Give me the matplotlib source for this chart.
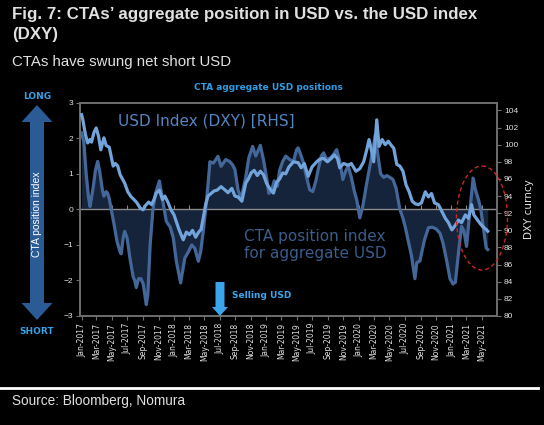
import matplotlib
matplotlib.use('Agg')
import matplotlib.pyplot as plt
import pandas as pd
from matplotlib.patches import Ellipse, FancyArrow

# readings: months elapsed since 1 Jan 2017, value
cta_month = [0.0, 0.3, 0.6, 0.9, 1.1, 1.5, 1.8, 2.1, 2.4, 2.7, 2.9, 3.2, 3.4, 3.6, 3.85,
             4.2, 4.6, 5.0, 5.15, 5.4, 5.6, 5.9, 6.3, 6.7, 6.9, 7.1, 7.4, 7.7, 8.0, 8.4,
             8.6, 8.9, 9.26, 9.6, 10.1, 10.5, 11.0, 11.5, 11.9, 12.3, 12.85, 13.4, 13.85,
             14.3, 14.7, 15.15, 15.45, 15.8, 16.1, 16.45, 16.65, 17.1, 17.7, 18.1, 18.7,
             19.2, 19.6, 19.9, 20.3, 20.7, 21.3, 21.7, 22.2, 22.6, 22.9, 23.2, 23.6, 24.0,
             24.3, 24.6, 25.0, 25.4, 25.7, 26.1, 26.5, 27.0, 27.5, 27.9, 28.1, 28.5, 28.8,
             29.2, 29.6, 30.0, 30.4, 30.7, 31.1, 31.4, 31.8, 32.3, 32.7, 33.1, 33.5, 33.9,
             34.3, 34.6, 35.0, 35.4, 35.7, 36.1, 36.5, 37.0, 37.4, 37.8, 38.1, 38.4, 38.8,
             39.2, 39.6, 40.0, 40.4, 40.8, 41.3, 41.7, 42.0, 42.4, 42.8, 43.25, 43.5, 43.9,
             44.5, 45.0, 45.5, 46.0, 46.5, 46.9, 47.35, 47.8, 48.2, 48.5, 48.9, 49.3, 49.6,
             49.95, 50.4, 50.8, 51.1, 51.5, 51.8, 52.1, 52.5, 52.7]
cta_value = [2.15, 1.9, 1.0, 0.35, 0.08, 0.6, 1.1, 1.35, 1.0, 0.55, 0.37, 0.5, 0.45, 0.3, 0.0,
             -0.4, -0.9, -1.2, -1.25, -0.8, -0.62, -0.8, -1.4, -1.9, -2.0, -2.2, -1.95, -1.95, -2.1, -2.68,
             -2.4, -1.0, 0.0, 0.45, 0.8, 0.3, -0.34, -0.5, -0.8, -1.46, -2.07, -1.37, -1.2,
             -1.0, -1.1, -1.46, -1.2, -0.6, 0.0, 0.79, 1.34, 1.3, 1.49, 1.21, 1.4,
             1.35, 1.25, 1.12, 0.55, 0.3, 0.9, 1.45, 1.77, 1.5, 1.65, 1.8, 1.4, 0.9,
             0.45, 0.5, 0.8, 0.65, 1.1, 1.35, 1.5, 1.4, 1.35, 1.68, 1.73, 1.5, 1.3,
             0.9, 0.55, 0.5, 0.8, 1.12, 1.5, 1.59, 1.4, 1.45, 1.55, 1.68, 1.35, 0.84,
             1.1, 1.21, 0.9, 0.5, 0.27, -0.24, 0.1, 0.74, 1.21, 1.68, 2.1, 1.6, 1.0,
             0.9, 0.95, 0.9, 0.84, 0.6, 0.0, -0.25, -0.5, -0.9, -1.3, -1.95, -1.5, -1.45,
             -0.85, -0.52, -0.5, -0.55, -0.67, -0.95, -1.42, -1.95, -2.1, -2.05, -1.23, -0.48, -0.6,
             -1.04, 0.0, 0.88, 0.55, 0.27, 0.0, -0.47, -1.09, -1.13]

dxy_month = [0.0, 0.15, 0.5, 0.8, 1.1, 1.3, 1.6, 1.9, 2.2, 2.5, 2.9, 3.2, 3.6, 4.1, 4.4,
             4.7, 5.0, 5.3, 5.6, 6.0, 6.4, 6.8, 7.2, 7.6, 8.0, 8.3, 8.7, 9.1, 9.4, 9.7,
             10.1, 10.5, 10.8, 11.2, 11.6, 12.0, 12.3, 12.6, 13.0, 13.2, 13.6, 14.0, 14.4,
             14.8, 15.2, 15.5, 15.8, 16.1, 16.4, 16.8, 17.2, 17.6, 18.1, 18.5, 19.0, 19.5,
             19.9, 20.3, 20.8, 21.3, 21.7, 22.0, 22.4, 22.8, 23.2, 23.6, 24.0, 24.4, 24.9,
             25.3, 25.7, 26.1, 26.5, 26.9, 27.5, 28.1, 28.5, 28.9, 29.4, 29.9, 30.5, 30.9,
             31.4, 31.9, 32.4, 32.8, 33.2, 33.5, 34.0, 34.6, 35.0, 35.6, 36.1, 36.6, 37.0,
             37.3, 37.6, 37.9, 38.3, 38.6, 39.0, 39.4, 39.8, 40.2, 40.5, 40.9, 41.3, 41.7,
             42.1, 42.5, 42.9, 43.3, 43.7, 44.1, 44.6, 45.0, 45.4, 45.8, 46.3, 46.75, 47.2,
             47.6, 48.05, 48.5, 48.9, 49.3, 49.8, 50.2, 50.6, 50.9, 51.3, 51.7, 52.1, 52.5,
             52.7]
dxy_value = [103.5, 103.0, 101.2, 100.2, 100.6, 100.3, 101.4, 101.95, 101.0, 99.4, 100.8, 99.9, 99.7, 97.5, 97.8,
             97.5, 96.5, 96.0, 95.5, 94.5, 93.95, 93.6, 93.2, 92.6, 92.4, 92.9, 93.3, 93.0, 93.6, 94.35,
             94.7, 93.6, 94.0, 93.3, 92.4, 91.8, 91.0, 90.2, 89.3, 88.9, 89.8, 89.5, 90.0,
             89.2, 89.8, 90.1, 91.5, 93.0, 94.0, 94.3, 94.6, 94.7, 95.1, 94.8, 94.4, 94.9,
             94.0, 93.9, 93.4, 95.5, 96.1, 96.7, 97.0, 96.4, 96.9, 96.5, 95.5, 94.9, 94.35,
             95.6, 96.0, 96.7, 96.6, 97.4, 98.0, 97.9, 97.3, 97.8, 96.3, 97.4, 98.0, 98.3,
             98.4, 98.0, 98.4, 98.8, 98.4, 97.3, 97.8, 97.6, 97.8, 96.9, 97.2, 98.0, 99.4,
             100.6, 99.4, 98.0, 102.9, 99.8, 100.6, 100.0, 100.4, 99.9, 99.6, 97.7, 97.5, 96.9,
             95.3, 94.5, 93.4, 93.1, 93.0, 93.2, 94.5, 93.9, 94.3, 93.2, 93.0, 92.2, 91.4,
             90.9, 90.05, 90.6, 91.2, 90.9, 91.8, 91.4, 93.0, 91.8, 91.3, 90.8, 90.4, 90.1,
             89.9]

tick_dates = pd.date_range('2017-01-01', '2021-05-01', freq='2MS')
tick_labels = [d.strftime('%b-%Y') for d in tick_dates]


def to_dates(months):
    base = pd.Timestamp('2017-01-01')
    return [base + pd.Timedelta(days=m * 30.44) for m in months]


W, H = 544, 425
fig = plt.figure(figsize=(W / 100, H / 100), dpi=100, facecolor='black')
plt.rcParams['font.family'] = ['Liberation Sans', 'DejaVu Sans']

def px_axes(l, t, r, b):
    return [l / W, 1 - b / H, (r - l) / W, (b - t) / H]

grey = '#6e6e6e'
txt = '#e0e0e0'

ax = fig.add_axes(px_axes(80, 102.7, 497, 316))
ax.set_facecolor('black')
cta_x = to_dates(cta_month)
dxy_x = to_dates(dxy_month)
ax.fill_between(cta_x, cta_value, 0, color='#15243a', lw=0, zorder=1)
ax.plot(cta_x, cta_value, color='#44679a', lw=2.3, zorder=3, solid_joinstyle='round')
ax.axhline(0, color='#8a8a8a', lw=1, zorder=2)
ax.set_ylim(-3, 3)
ax.set_yticks(range(-3, 4))
ax.set_xlim(to_dates([-0.2])[0], to_dates([53.9])[0])
ax.set_xticks(tick_dates)
ax.set_xticklabels(tick_labels, rotation=90, fontsize=5.5, color=txt, family='DejaVu Sans')
ax.tick_params(axis='x', length=3, color=grey, pad=2)
ax.tick_params(axis='y', length=3, color=grey, labelsize=6, labelcolor=txt, pad=2)
for s in ax.spines.values():
    s.set_color(grey)
    s.set_linewidth(1.2)

# small ticks along the zero line
zx = ax.secondary_xaxis(0.5)
zx.set_xticks(tick_dates)
zx.tick_params(axis='x', direction='out', length=3, color='#8a8a8a', labelbottom=False, labeltop=False)
zx.spines['top'].set_visible(False)

ax2 = ax.twinx()
ax2.plot(dxy_x, dxy_value, color='#72a3da', lw=2.3, zorder=4, solid_joinstyle='round')
ax2.set_ylim(80, 104.9)
ax2.set_yticks(range(80, 105, 2))
ax2.tick_params(axis='y', length=3, color=grey, labelsize=6, labelcolor=txt, pad=2)
for s in ax2.spines.values():
    s.set_color(grey)
    s.set_linewidth(1.2)
ax2.set_ylabel('DXY curncy', color=txt, fontsize=7.5, labelpad=4, family='DejaVu Sans')

# overlay in pixel coordinates for the decorations
ov = fig.add_axes([0, 0, 1, 1], facecolor='none')
ov.set_xlim(0, W)
ov.set_ylim(H, 0)
ov.axis('off')

ov.text(12, 18.5, 'Fig. 7: CTAs\u2019 aggregate position in USD vs. the USD index',
        fontsize=12.2, fontweight='bold', color=txt, va='baseline', ha='left')
ov.text(12, 39, '(DXY)', fontsize=12.2, fontweight='bold', color=txt, va='baseline', ha='left')
ov.text(12, 65.5, 'CTAs have swung net short USD', fontsize=10.8, color=txt, va='baseline', ha='left')
ov.text(268, 87, 'CTA aggregate USD positions', fontsize=6.5, fontweight='bold', color='#2f9de4',
        ha='center', va='center', family='DejaVu Sans')

ov.text(37, 96, 'LONG', fontsize=6.5, fontweight='bold', color='#3aa0e6', ha='center', va='center',
        family='DejaVu Sans')
ov.text(37, 331, 'SHORT', fontsize=6.5, fontweight='bold', color='#3aa0e6', ha='center', va='center',
        family='DejaVu Sans')
arrow_c = '#2b5b95'
ov.add_patch(FancyArrow(37, 212, 0, -107, width=14, head_width=31, head_length=17,
                        length_includes_head=True, color=arrow_c, lw=0))
ov.add_patch(FancyArrow(37, 212, 0, 108, width=14, head_width=31, head_length=17,
                        length_includes_head=True, color=arrow_c, lw=0))
ov.text(37, 214, 'CTA position index', rotation=90, fontsize=7.5, color='white',
        ha='center', va='center')

ov.text(118, 121, 'USD Index (DXY) [RHS]', fontsize=11, color='#5585c0', ha='left', va='center',
        family='DejaVu Sans')
ov.text(244, 245, 'CTA position index\nfor aggregate USD', fontsize=11, color='#3a5d8b',
        ha='left', va='center', linespacing=1.1, family='DejaVu Sans')

ov.add_patch(FancyArrow(220, 282, 0, 34, width=9, head_width=16, head_length=9,
                        length_includes_head=True, color='#3aa5ec', lw=0))
ov.text(232, 295, 'Selling USD', fontsize=6.5, fontweight='bold', color='#3aa5ec',
        ha='left', va='center', family='DejaVu Sans')

ov.add_patch(Ellipse((482, 218), 51, 104, fill=False, ec='#c8262b', lw=1, ls=(0, (3, 2))))

ov.plot([0, 538], [388, 388], color='white', lw=2)
ov.text(12, 405, 'Source: Bloomberg, Nomura', fontsize=9.8, color=txt, ha='left', va='baseline')

fig.savefig('out.png', dpi=100, facecolor='black')
